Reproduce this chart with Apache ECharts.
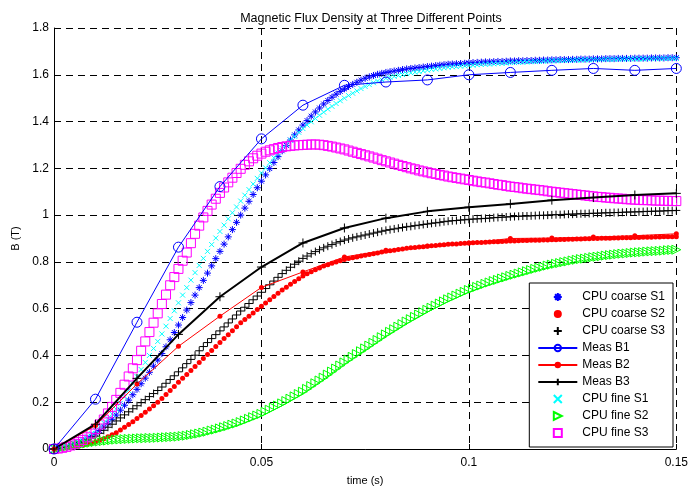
<!DOCTYPE html>
<html>
<head>
<meta charset="utf-8">
<title>Magnetic Flux Density</title>
<script src="https://cdn.jsdelivr.net/npm/echarts@6/dist/echarts.min.js"></script>
<style>
html, body { margin: 0; padding: 0; background: #fff; }
#chart { width: 691px; height: 491px; }
</style>
</head>
<body>
<div id="chart"></div>
<script>
// simulated curves: one value per millisecond, 0 .. 150 ms
const cpuCoarseS1 = [
  0, 0.003, 0.006, 0.01, 0.015, 0.02, 0.027, 0.035, 0.044, 0.054, 0.065,
  0.079, 0.094, 0.11, 0.127, 0.145, 0.166, 0.187, 0.209, 0.232, 0.255,
  0.279, 0.303, 0.328, 0.354, 0.38, 0.408, 0.437, 0.467, 0.498, 0.53,
  0.562, 0.594, 0.626, 0.658, 0.69, 0.721, 0.752, 0.783, 0.814, 0.845,
  0.876, 0.907, 0.938, 0.969, 1.0, 1.03, 1.059, 1.088, 1.117, 1.145,
  1.172, 1.199, 1.225, 1.25, 1.275, 1.298, 1.321, 1.343, 1.364, 1.385,
  1.404, 1.423, 1.441, 1.458, 1.475, 1.49, 1.504, 1.517, 1.529, 1.54,
  1.55, 1.559, 1.568, 1.577, 1.585, 1.591, 1.597, 1.602, 1.606, 1.61,
  1.613, 1.616, 1.619, 1.622, 1.625, 1.627, 1.629, 1.631, 1.633, 1.635,
  1.637, 1.639, 1.641, 1.643, 1.645, 1.646, 1.647, 1.648, 1.649, 1.651,
  1.652, 1.653, 1.654, 1.655, 1.655, 1.656, 1.657, 1.657, 1.658, 1.659,
  1.659, 1.66, 1.66, 1.661, 1.661, 1.662, 1.662, 1.663, 1.663, 1.664,
  1.664, 1.665, 1.665, 1.665, 1.666, 1.666, 1.667, 1.667, 1.667, 1.668,
  1.668, 1.668, 1.669, 1.669, 1.669, 1.67, 1.67, 1.67, 1.67, 1.671,
  1.671, 1.671, 1.671, 1.672, 1.672, 1.672, 1.672, 1.673, 1.673, 1.673
]
const cpuCoarseS2 = [
  0, 0.001, 0.003, 0.005, 0.007, 0.01, 0.013, 0.017, 0.021, 0.025, 0.03,
  0.037, 0.044, 0.052, 0.061, 0.07, 0.081, 0.093, 0.105, 0.117, 0.13,
  0.143, 0.157, 0.171, 0.185, 0.2, 0.216, 0.233, 0.25, 0.267, 0.285,
  0.302, 0.319, 0.336, 0.353, 0.37, 0.387, 0.404, 0.421, 0.438, 0.455,
  0.472, 0.489, 0.506, 0.523, 0.54, 0.554, 0.568, 0.582, 0.596, 0.61,
  0.624, 0.638, 0.652, 0.666, 0.68, 0.692, 0.704, 0.716, 0.728, 0.74,
  0.749, 0.758, 0.766, 0.774, 0.782, 0.788, 0.794, 0.8, 0.805, 0.81,
  0.814, 0.818, 0.821, 0.825, 0.828, 0.832, 0.835, 0.838, 0.842, 0.845,
  0.848, 0.85, 0.853, 0.855, 0.858, 0.86, 0.862, 0.864, 0.865, 0.867,
  0.869, 0.87, 0.872, 0.873, 0.875, 0.876, 0.877, 0.879, 0.88, 0.881,
  0.882, 0.883, 0.883, 0.884, 0.885, 0.886, 0.886, 0.887, 0.888, 0.889,
  0.889, 0.89, 0.891, 0.891, 0.892, 0.892, 0.893, 0.894, 0.894, 0.895,
  0.895, 0.896, 0.896, 0.897, 0.897, 0.898, 0.898, 0.899, 0.899, 0.9,
  0.9, 0.901, 0.901, 0.901, 0.902, 0.902, 0.903, 0.903, 0.903, 0.904,
  0.904, 0.905, 0.905, 0.905, 0.906, 0.906, 0.907, 0.907, 0.907, 0.908
]
const cpuCoarseS3 = [
  0, 0.003, 0.006, 0.01, 0.015, 0.02, 0.026, 0.032, 0.039, 0.047, 0.055,
  0.067, 0.08, 0.093, 0.106, 0.12, 0.133, 0.146, 0.159, 0.172, 0.185,
  0.198, 0.211, 0.224, 0.237, 0.25, 0.265, 0.281, 0.297, 0.313, 0.33,
  0.347, 0.365, 0.383, 0.401, 0.42, 0.438, 0.455, 0.472, 0.489, 0.505,
  0.522, 0.539, 0.556, 0.573, 0.59, 0.606, 0.622, 0.638, 0.654, 0.67,
  0.686, 0.702, 0.718, 0.734, 0.75, 0.764, 0.777, 0.79, 0.803, 0.815,
  0.825, 0.835, 0.844, 0.852, 0.86, 0.867, 0.874, 0.881, 0.887, 0.893,
  0.898, 0.903, 0.907, 0.911, 0.915, 0.919, 0.923, 0.927, 0.931, 0.935,
  0.938, 0.941, 0.944, 0.947, 0.95, 0.952, 0.955, 0.957, 0.96, 0.962,
  0.965, 0.967, 0.969, 0.972, 0.974, 0.976, 0.977, 0.979, 0.98, 0.982,
  0.983, 0.984, 0.985, 0.986, 0.987, 0.989, 0.99, 0.991, 0.992, 0.993,
  0.994, 0.995, 0.996, 0.996, 0.997, 0.998, 0.999, 0.999, 1.0, 1.001,
  1.002, 1.002, 1.003, 1.004, 1.004, 1.005, 1.006, 1.006, 1.007, 1.008,
  1.008, 1.009, 1.01, 1.01, 1.011, 1.011, 1.012, 1.013, 1.013, 1.014,
  1.014, 1.015, 1.016, 1.016, 1.017, 1.017, 1.018, 1.019, 1.019, 1.02
]
const cpuFineS1 = [
  0, 0.003, 0.007, 0.012, 0.018, 0.025, 0.033, 0.042, 0.053, 0.066, 0.08,
  0.095, 0.111, 0.13, 0.149, 0.17, 0.195, 0.222, 0.25, 0.28, 0.31,
  0.34, 0.37, 0.4, 0.43, 0.46, 0.492, 0.525, 0.558, 0.591, 0.625,
  0.658, 0.69, 0.722, 0.754, 0.785, 0.815, 0.845, 0.874, 0.902, 0.93,
  0.957, 0.984, 1.01, 1.035, 1.06, 1.085, 1.109, 1.133, 1.157, 1.18,
  1.202, 1.224, 1.245, 1.265, 1.285, 1.303, 1.32, 1.337, 1.354, 1.37,
  1.385, 1.399, 1.413, 1.427, 1.44, 1.453, 1.465, 1.477, 1.489, 1.5,
  1.511, 1.521, 1.531, 1.541, 1.55, 1.558, 1.566, 1.573, 1.579, 1.585,
  1.589, 1.593, 1.597, 1.601, 1.605, 1.608, 1.611, 1.614, 1.617, 1.62,
  1.623, 1.625, 1.627, 1.63, 1.632, 1.634, 1.635, 1.637, 1.638, 1.64,
  1.641, 1.643, 1.644, 1.645, 1.646, 1.647, 1.648, 1.649, 1.65, 1.652,
  1.652, 1.653, 1.654, 1.655, 1.656, 1.656, 1.657, 1.658, 1.659, 1.66,
  1.66, 1.661, 1.661, 1.662, 1.662, 1.663, 1.663, 1.664, 1.664, 1.665,
  1.665, 1.665, 1.666, 1.666, 1.666, 1.667, 1.667, 1.667, 1.668, 1.668,
  1.668, 1.668, 1.669, 1.669, 1.669, 1.669, 1.67, 1.67, 1.67, 1.67
]
const cpuFineS2 = [
  0, 0.003, 0.006, 0.009, 0.012, 0.015, 0.018, 0.021, 0.024, 0.027, 0.03,
  0.032, 0.034, 0.036, 0.038, 0.04, 0.041, 0.042, 0.043, 0.044, 0.045,
  0.046, 0.046, 0.047, 0.047, 0.048, 0.049, 0.05, 0.051, 0.052, 0.053,
  0.055, 0.057, 0.06, 0.063, 0.066, 0.07, 0.074, 0.079, 0.083, 0.088,
  0.093, 0.098, 0.104, 0.109, 0.115, 0.122, 0.129, 0.136, 0.143, 0.15,
  0.159, 0.168, 0.177, 0.186, 0.195, 0.205, 0.215, 0.225, 0.235, 0.245,
  0.257, 0.269, 0.281, 0.293, 0.305, 0.318, 0.331, 0.344, 0.357, 0.37,
  0.382, 0.394, 0.406, 0.418, 0.43, 0.442, 0.454, 0.466, 0.478, 0.49,
  0.501, 0.512, 0.523, 0.534, 0.545, 0.555, 0.565, 0.575, 0.585, 0.595,
  0.604, 0.613, 0.622, 0.631, 0.64, 0.648, 0.656, 0.664, 0.672, 0.68,
  0.686, 0.693, 0.699, 0.706, 0.712, 0.718, 0.723, 0.729, 0.734, 0.74,
  0.745, 0.75, 0.755, 0.76, 0.765, 0.77, 0.775, 0.779, 0.784, 0.788,
  0.792, 0.795, 0.799, 0.802, 0.806, 0.809, 0.812, 0.814, 0.817, 0.82,
  0.822, 0.824, 0.827, 0.829, 0.831, 0.833, 0.835, 0.836, 0.838, 0.84,
  0.841, 0.842, 0.844, 0.845, 0.846, 0.847, 0.848, 0.85, 0.851, 0.852
]
const cpuFineS3 = [
  0, 0.002, 0.005, 0.009, 0.015, 0.022, 0.03, 0.039, 0.05, 0.066, 0.085,
  0.105, 0.126, 0.152, 0.18, 0.21, 0.24, 0.275, 0.31, 0.345, 0.38,
  0.42, 0.46, 0.5, 0.54, 0.58, 0.62, 0.66, 0.7, 0.735, 0.77,
  0.805, 0.84, 0.88, 0.92, 0.955, 0.99, 1.018, 1.045, 1.07, 1.095,
  1.118, 1.14, 1.16, 1.18, 1.198, 1.215, 1.23, 1.243, 1.254, 1.263,
  1.271, 1.277, 1.282, 1.287, 1.291, 1.294, 1.296, 1.298, 1.299, 1.3,
  1.301, 1.302, 1.302, 1.301, 1.299, 1.296, 1.293, 1.289, 1.285, 1.281,
  1.276, 1.271, 1.266, 1.261, 1.256, 1.251, 1.246, 1.241, 1.235, 1.23,
  1.225, 1.22, 1.215, 1.21, 1.205, 1.2, 1.196, 1.191, 1.187, 1.183,
  1.179, 1.176, 1.172, 1.169, 1.165, 1.162, 1.159, 1.156, 1.153, 1.15,
  1.147, 1.144, 1.141, 1.139, 1.136, 1.133, 1.13, 1.128, 1.125, 1.122,
  1.12, 1.118, 1.115, 1.113, 1.111, 1.109, 1.107, 1.105, 1.102, 1.1,
  1.098, 1.096, 1.094, 1.092, 1.09, 1.088, 1.086, 1.084, 1.082, 1.08,
  1.078, 1.077, 1.075, 1.074, 1.072, 1.071, 1.07, 1.068, 1.067, 1.066,
  1.065, 1.064, 1.064, 1.063, 1.062, 1.062, 1.061, 1.061, 1.06, 1.06
]

// measured points, every 10 ms
const measTime = [0, 10, 20, 30, 40, 50, 60, 70, 80, 90, 100, 110, 120, 130, 140, 150]
const measB1 = [0, 0.213, 0.542, 0.863, 1.122, 1.326, 1.47, 1.555, 1.569, 1.578, 1.6, 1.61, 1.619, 1.627, 1.619, 1.627]
const measB2 = [0, 0.1, 0.278, 0.439, 0.568, 0.691, 0.757, 0.821, 0.85, 0.868, 0.881, 0.9, 0.902, 0.906, 0.912, 0.92]
const measB3 = [0, 0.106, 0.302, 0.49, 0.651, 0.778, 0.881, 0.945, 0.987, 1.016, 1.034, 1.048, 1.064, 1.075, 1.086, 1.093]

// axis ticks (x in ms)
const xTickLabels = { 0: '0', 50: '0.05', 100: '0.1', 150: '0.15' }
const yTickLabels = ['0', '0.2', '0.4', '0.6', '0.8', '1', '1.2', '1.4', '1.6', '1.8']

const FONT = 'Liberation Sans, Arial, Helvetica, sans-serif'

// matlab-like marker shapes
const STAR = 'path://M5,0L5,10M0,5L10,5M1.5,1.5L8.5,8.5M8.5,1.5L1.5,8.5'
const PLUS = 'path://M5,0L5,10M0,5L10,5'
const XMARK = 'path://M0,0L10,10M10,0L0,10'
const TRI = 'path://M0,0L10,5L0,10Z'
const SQUARE = 'path://M0,0L10,0L10,10L0,10Z'

function perMs(values) {
  return values.map((v, i) => [i, v])
}
function withTime(values) {
  return values.map((v, i) => [measTime[i], v])
}

function markerSeries(name, values, symbol, size, color, filled) {
  return {
    name: name,
    type: 'scatter',
    data: perMs(values),
    symbol: symbol,
    symbolSize: size,
    symbolKeepAspect: true,
    itemStyle: {
      color: filled ? color : 'rgba(0,0,0,0)',
      borderColor: color,
      borderWidth: filled ? 0 : 1,
      opacity: 1
    },
    emphasis: { disabled: true },
    silent: true
  }
}

function measSeries(name, values, symbol, size, color, width, filled) {
  return {
    name: name,
    type: 'line',
    data: withTime(values),
    symbol: symbol,
    symbolSize: size,
    showAllSymbol: true,
    lineStyle: { color: color, width: width },
    itemStyle: {
      color: filled ? color : 'rgba(0,0,0,0)',
      borderColor: color,
      borderWidth: filled ? 0 : 1
    },
    emphasis: { disabled: true },
    silent: true
  }
}

const chart = echarts.init(document.getElementById('chart'), null, { renderer: 'canvas' })

chart.setOption({
  animation: false,
  backgroundColor: '#fff',
  textStyle: { fontFamily: FONT },
  title: {
    text: 'Magnetic Flux Density at Three Different Points',
    left: 366,
    textAlign: 'center',
    top: 7,
    textStyle: { fontFamily: FONT, fontSize: 12.5, fontWeight: 'normal', color: '#000' }
  },
  grid: { left: 54, right: 12, top: 28, bottom: 38 },
  xAxis: {
    type: 'value',
    min: 0,
    max: 150,
    interval: 50,
    name: 'time (s)',
    nameLocation: 'middle',
    nameGap: 26,
    nameTextStyle: { fontFamily: FONT, fontSize: 11, color: '#000' },
    axisLine: { show: true, onZero: false, lineStyle: { color: '#000', width: 1 } },
    axisTick: { show: true, inside: true, length: 5, lineStyle: { color: '#000' } },
    axisLabel: {
      fontFamily: FONT, fontSize: 12, color: '#000', margin: 8,
      formatter: v => xTickLabels[v]
    },
    splitLine: { show: true, lineStyle: { color: '#000', type: [7, 5], width: 1 } }
  },
  yAxis: {
    type: 'value',
    min: 0,
    max: 1.8,
    interval: 0.2,
    name: 'B (T)',
    nameLocation: 'middle',
    nameGap: 28,
    nameTextStyle: { fontFamily: FONT, fontSize: 11, color: '#000' },
    axisLine: { show: true, lineStyle: { color: '#000', width: 1 } },
    axisTick: { show: true, inside: true, length: 5, lineStyle: { color: '#000' } },
    axisLabel: {
      fontFamily: FONT, fontSize: 12, color: '#000', margin: 5,
      formatter: v => yTickLabels[Math.round(v / 0.2)]
    },
    splitLine: { show: true, lineStyle: { color: '#000', type: [7, 5], width: 1 } }
  },
  legend: {
    orient: 'vertical',
    right: 18,
    bottom: 44,
    itemWidth: 39,
    itemHeight: 8,
    itemGap: 5,
    padding: [8, 8, 8, 8],
    backgroundColor: '#fff',
    borderColor: '#000',
    borderWidth: 1,
    borderRadius: 0,
    selectedMode: false,
    textStyle: { fontFamily: FONT, fontSize: 12, color: '#000' },
    data: ['CPU coarse S1', 'CPU coarse S2', 'CPU coarse S3', 'Meas B1', 'Meas B2', 'Meas B3',
      'CPU fine S1', 'CPU fine S2', 'CPU fine S3']
  },
  series: [
    markerSeries('CPU coarse S1', cpuCoarseS1, STAR, 7, '#0000ff', false),
    markerSeries('CPU coarse S2', cpuCoarseS2, 'circle', 5, '#ff0000', true),
    markerSeries('CPU coarse S3', cpuCoarseS3, PLUS, 8, '#000000', false),
    measSeries('Meas B1', measB1, 'circle', 10, '#0000ff', 1, false),
    measSeries('Meas B2', measB2, 'circle', 5, '#ff0000', 1, true),
    measSeries('Meas B3', measB3, PLUS, 9, '#000000', 2, false),
    markerSeries('CPU fine S1', cpuFineS1, XMARK, 5, '#00ffff', false),
    markerSeries('CPU fine S2', cpuFineS2, TRI, 9, '#00ff00', false),
    markerSeries('CPU fine S3', cpuFineS3, SQUARE, 9, '#ff00ff', false)
  ]
})
</script>
</body>
</html>
